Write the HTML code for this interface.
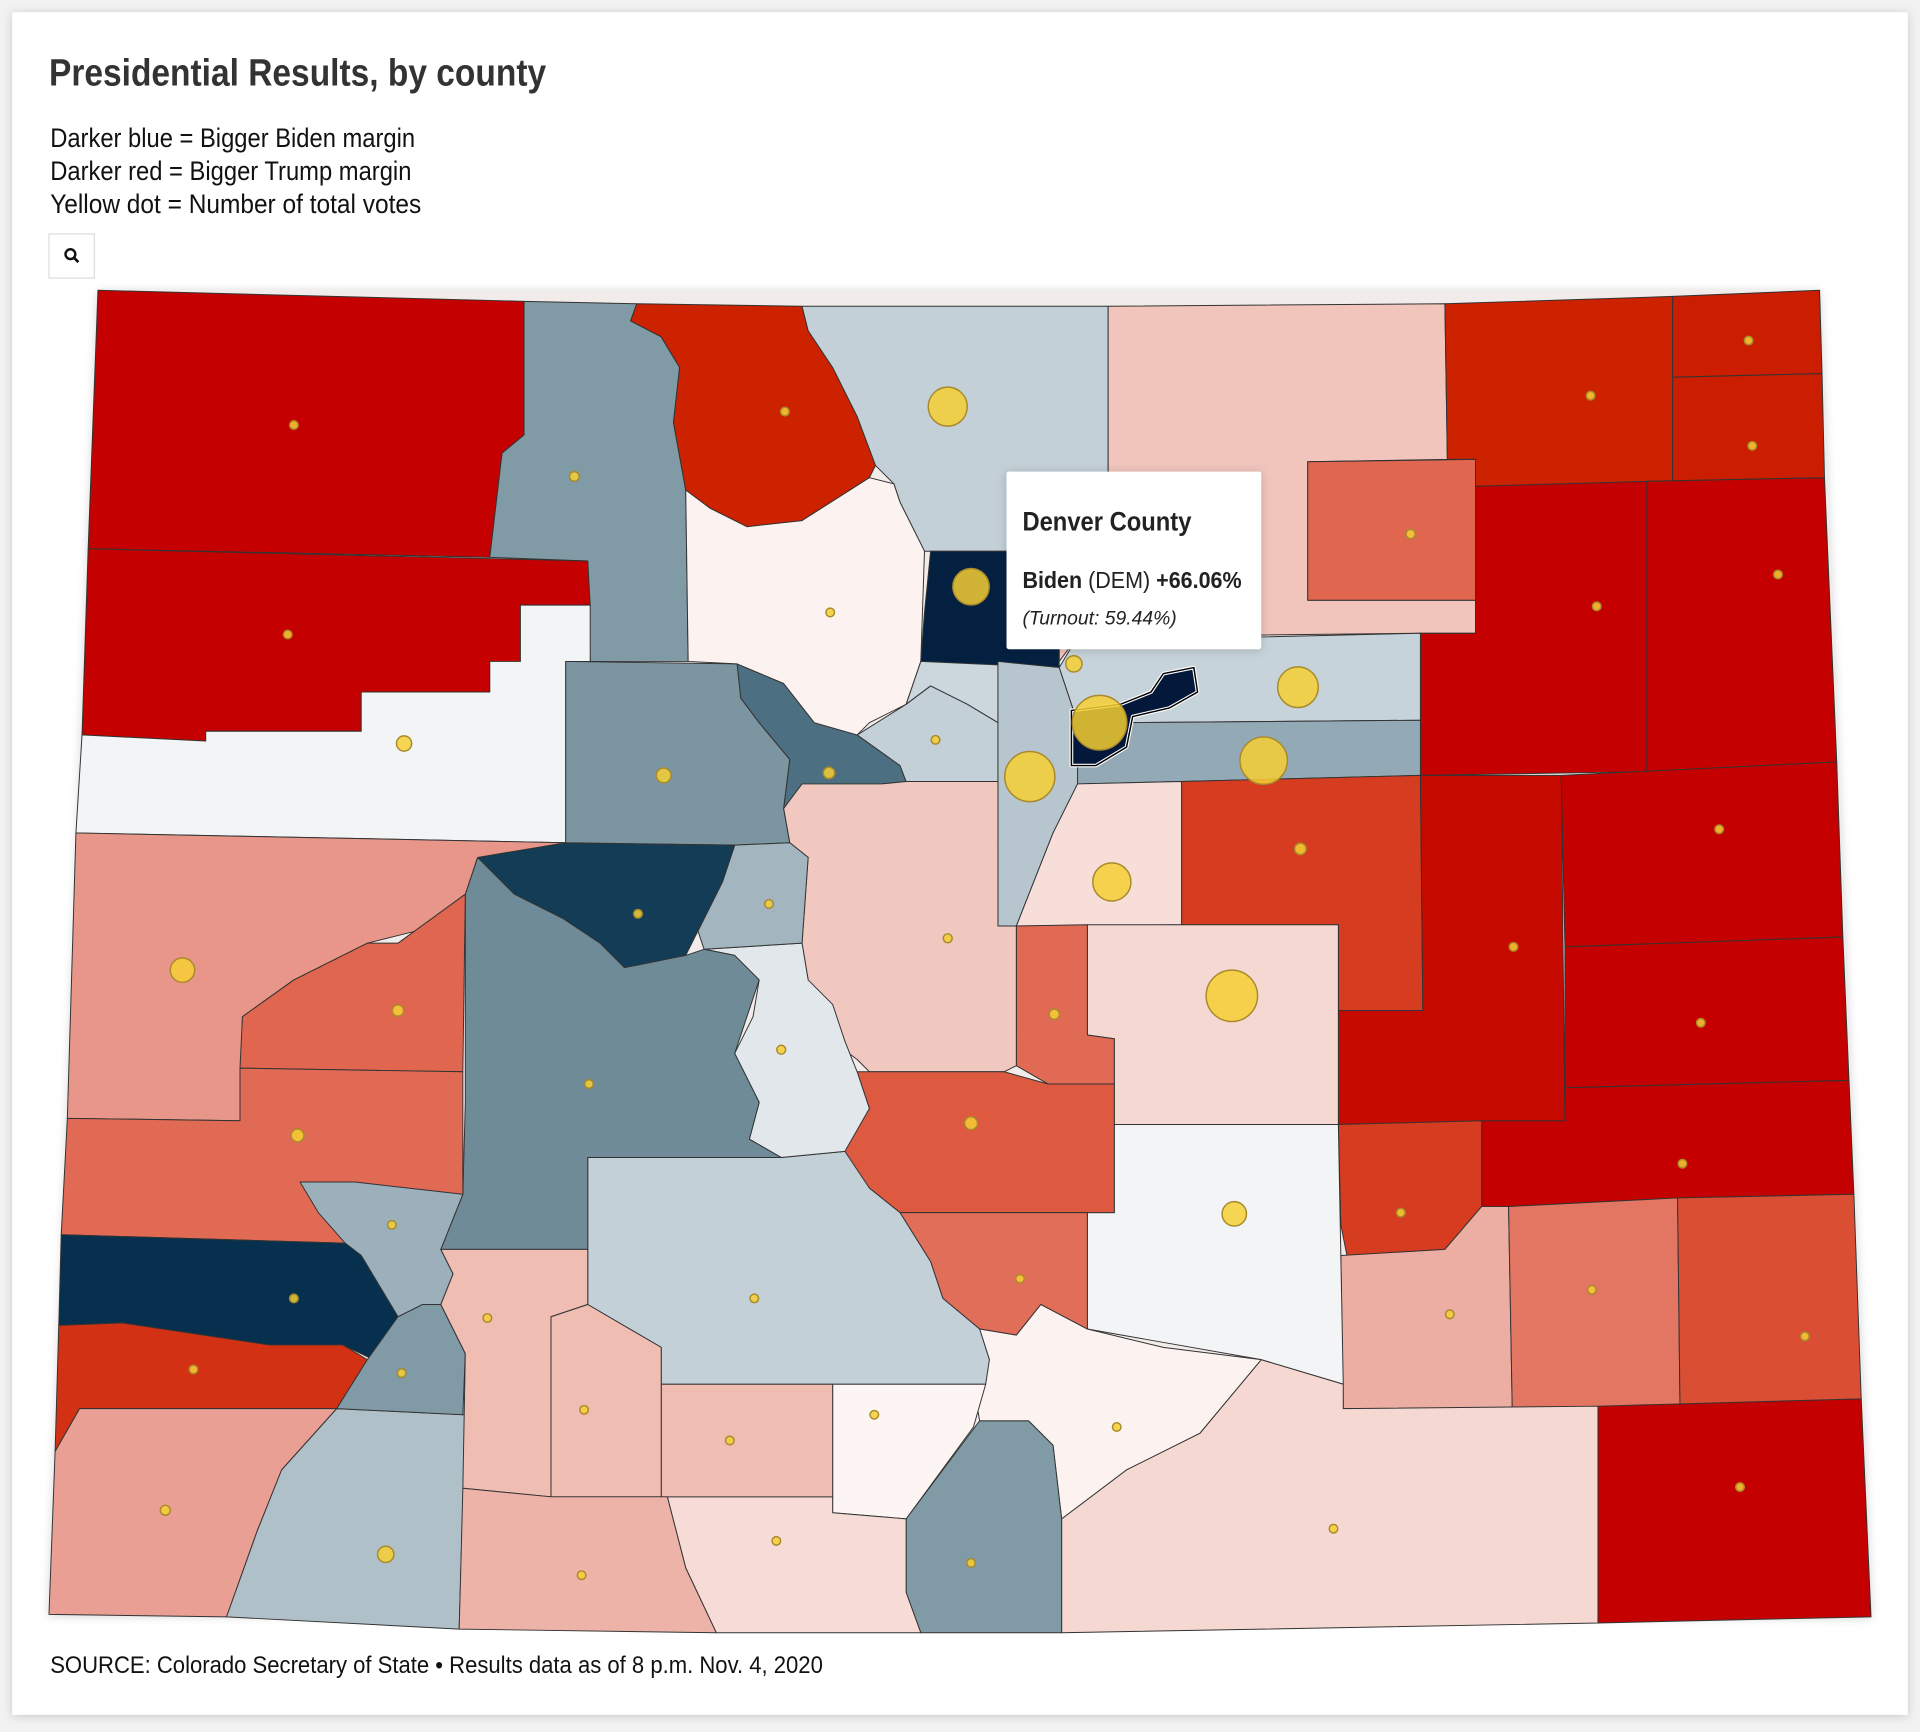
<!DOCTYPE html>
<html><head><meta charset="utf-8">
<style>
html,body{margin:0;padding:0;background:#f2f2f2;width:1920px;height:1732px;overflow:hidden}
svg{display:block}
text{font-family:"Liberation Sans Narrow","Liberation Sans",sans-serif}
</style></head>
<body>
<svg id="chart" width="1920" height="1732" viewBox="0 0 1568 1414" preserveAspectRatio="none" xmlns="http://www.w3.org/2000/svg">
<defs>
<filter id="sh" x="-10%" y="-10%" width="120%" height="120%"><feDropShadow dx="0" dy="1" stdDeviation="4" flood-color="#000" flood-opacity="0.18"/></filter>
</defs>
<rect x="10" y="10" width="1548" height="1390" fill="#fff" filter="url(#sh)"/>
<text x="40" y="70" font-size="31" font-weight="bold" fill="#333" textLength="406" lengthAdjust="spacingAndGlyphs">Presidential Results, by county</text>
<text x="41" y="120" font-size="22" fill="#111" textLength="298" lengthAdjust="spacingAndGlyphs">Darker blue = Bigger Biden margin</text>
<text x="41" y="147" font-size="22" fill="#111" textLength="295" lengthAdjust="spacingAndGlyphs">Darker red = Bigger Trump margin</text>
<text x="41" y="174" font-size="22" fill="#111" textLength="303" lengthAdjust="spacingAndGlyphs">Yellow dot = Number of total votes</text>
<g>
<rect x="40" y="191" width="37" height="36" fill="#fff" stroke="#ddd"/>
<circle cx="57.5" cy="207.5" r="4" fill="none" stroke="#111" stroke-width="2"/>
<line x1="60.5" y1="210.5" x2="64" y2="214" stroke="#111" stroke-width="2.2"/>
</g>
<g id="counties"></g>
<g id="dots"></g>
<g>
<rect x="822" y="385" width="208" height="145" fill="#fff" rx="2" filter="url(#sh)"/>
<text x="835" y="433" font-size="22" font-weight="bold" fill="#222" textLength="138" lengthAdjust="spacingAndGlyphs">Denver County</text>
<text x="835" y="480" font-size="19" fill="#222" textLength="179" lengthAdjust="spacingAndGlyphs"><tspan font-weight="bold">Biden</tspan> (DEM) <tspan font-weight="bold">+66.06%</tspan></text>
<text x="835" y="510" font-size="16" font-style="italic" fill="#222" textLength="126" lengthAdjust="spacingAndGlyphs">(Turnout: 59.44%)</text>
</g>
<text x="41" y="1366" font-size="20" fill="#111" textLength="631" lengthAdjust="spacingAndGlyphs">SOURCE: Colorado Secretary of State • Results data as of 8 p.m. Nov. 4, 2020</text>
</svg>
<script>
// Chart data (margin: + = Biden, - = Trump; votes in thousands)
const countyNames = ["Moffat","Routt","Jackson","Larimer","Weld","Logan","Sedgwick","Phillips","Rio Blanco","Garfield","Eagle","Summit","Grand","Broomfield","Gilpin","Boulder","Morgan","Washington","Yuma","Adams","Arapahoe","Jefferson","Douglas","Elbert","Lincoln","Kit Carson","Cheyenne","Kiowa","Crowley","Otero","Bent","Prowers","Baca","Las Animas","Pueblo","El Paso","Teller","Park","Fremont","Custer","Huerfano","Costilla","Alamosa","Conejos","Rio Grande","Saguache","Chaffee","Lake","Pitkin","Gunnison","Mesa","Delta","Montrose","Ouray","San Miguel","Dolores","Montezuma","La Plata","San Juan","Hinsdale","Mineral","Archuleta","Denver"];
const margins = [-62,30,-55,12,-17,-55,-56,-56,-63,1,32,48,-2,10,12,64,-40,-62,-63,11,24,15,-8,-47,-60,-63,-64,-64,-47,-23,-36,-44,-62,-10,1,-10,-39,-16,-42,-38,-2,30,-1,-9,-20,12,5,20,58,36,-28,-40,-39,22,60,-50,-26,17,30,-20,-20,-22,66];
const votes = [7,14,1,230,170,10,1.5,2.5,4,35,33,20,10,40,4,200,13,3,5,250,340,380,220,20,3,4,1,1,2,10,2,5,2,9,90,400,16,12,25,4,4,2,8,4,7,4,12,4,11,11,90,20,25,4,6,1.3,15,40,0.5,0.6,0.8,9,450];
</script>
<script>
const shapes = {
"Moffat":[[80,237],[428,246],[428,355],[410,370],[400,455],[72,448]],
"Routt":[[428,246],[520,248],[515,262],[540,275],[555,300],[550,345],[560,400],[562,540],[482,540],[480,458],[400,455],[410,370],[428,355]],
"Jackson":[[520,248],[655,250],[660,270],[680,300],[700,340],[715,380],[710,390],[655,425],[640,430],[610,430],[580,415],[560,400],[550,345],[555,300],[540,275],[515,262]],
"Larimer":[[655,250],[905,250],[905,450],[760,450],[755,450],[735,410],[730,395],[715,380],[700,340],[680,300],[660,270]],
"Weld":[[905,250],[1180,248],[1182,375],[1068,377],[1068,490],[1205,490],[1205,517],[1160,517],[880,520],[865,540],[865,450],[905,450]],
"Logan":[[1180,248],[1366,242],[1366,395],[1205,397],[1205,375],[1182,375]],
"Sedgwick":[[1366,242],[1486,237],[1488,305],[1366,308]],
"Phillips":[[1366,308],[1488,305],[1490,390],[1345,393],[1366,393]],
"Rio Blanco":[[72,448],[480,458],[482,494],[425,494],[425,540],[400,540],[400,565],[295,565],[295,597],[168,597],[168,605],[67,600]],
"Garfield":[[67,600],[168,605],[168,597],[295,597],[295,565],[400,565],[400,540],[425,540],[425,494],[482,494],[482,540],[462,540],[462,688],[62,680]],
"Eagle":[[462,540],[602,542],[605,570],[620,590],[645,620],[640,660],[645,688],[600,690],[462,688]],
"Summit":[[602,542],[640,558],[665,590],[700,600],[735,625],[740,638],[720,640],[695,660],[690,690],[645,688],[640,660],[645,620],[620,590],[605,570]],
"Grand":[[560,400],[580,415],[610,430],[655,425],[710,390],[730,395],[735,410],[755,450],[752,540],[740,575],[710,590],[700,600],[665,590],[640,558],[602,542],[562,540]],
"Broomfield":[[752,540],[815,540],[815,590],[790,575],[760,560],[740,575]],
"Gilpin":[[700,600],[740,575],[760,560],[790,575],[815,590],[815,638],[740,638],[735,625]],
"Boulder":[[760,450],[865,450],[865,545],[752,540],[755,500]],
"Morgan":[[1068,377],[1205,375],[1205,490],[1068,490]],
"Washington":[[1205,397],[1345,393],[1345,630],[1160,633],[1160,517],[1205,517]],
"Yuma":[[1345,393],[1490,390],[1500,622],[1345,630]],
"Adams":[[880,520],[1030,520],[1160,517],[1160,588],[920,590],[905,600],[880,590],[865,545]],
"Arapahoe":[[905,600],[920,590],[1160,588],[1160,633],[965,638],[880,640],[880,625]],
"Jefferson":[[815,540],[865,545],[880,590],[880,640],[860,680],[830,756],[815,756]],
"Douglas":[[880,640],[965,638],[965,755],[830,756],[860,680]],
"Elbert":[[965,638],[1160,633],[1162,825],[1093,825],[1093,755],[965,755]],
"Lincoln":[[1160,633],[1275,633],[1278,915],[1093,918],[1093,825],[1162,825]],
"Kit Carson":[[1275,633],[1500,622],[1505,765],[1278,773]],
"Cheyenne":[[1278,773],[1505,765],[1510,882],[1278,888]],
"Kiowa":[[1210,915],[1278,915],[1278,888],[1510,882],[1514,975],[1370,978],[1232,985],[1210,985]],
"Crowley":[[1093,918],[1210,915],[1210,985],[1180,1020],[1100,1025],[1095,1000]],
"Otero":[[1095,1025],[1180,1020],[1210,985],[1232,985],[1235,1150],[1097,1150]],
"Bent":[[1232,985],[1370,978],[1372,1148],[1235,1150]],
"Prowers":[[1370,978],[1514,975],[1520,1142],[1372,1148]],
"Baca":[[1305,1148],[1520,1142],[1528,1320],[1305,1325]],
"Las Animas":[[1097,1150],[1305,1148],[1305,1325],[867,1333],[867,1240],[920,1200],[980,1170],[1030,1110],[1097,1130]],
"Pueblo":[[888,918],[1093,918],[1095,1025],[1097,1130],[1030,1110],[888,1085],[888,990],[910,990],[910,918]],
"El Paso":[[888,755],[1093,755],[1093,918],[910,918],[910,848],[888,845]],
"Teller":[[830,756],[888,755],[888,845],[910,848],[910,885],[856,885],[830,870]],
"Park":[[645,688],[640,660],[655,640],[720,640],[740,638],[815,638],[815,756],[830,756],[830,870],[820,875],[710,875],[700,865],[680,850],[660,800],[655,770],[660,700]],
"Fremont":[[700,875],[820,875],[856,885],[910,885],[910,990],[888,990],[735,990],[710,970],[688,940],[710,905]],
"Custer":[[735,990],[888,990],[888,1085],[850,1065],[830,1090],[800,1085],[770,1060],[760,1030]],
"Huerfano":[[800,1085],[830,1090],[850,1065],[888,1085],[950,1100],[1030,1110],[980,1170],[920,1200],[867,1240],[860,1180],[840,1160],[800,1160],[795,1130],[808,1110]],
"Costilla":[[740,1240],[800,1160],[840,1160],[860,1180],[867,1240],[867,1333],[752,1333],[740,1300]],
"Alamosa":[[680,1130],[805,1130],[795,1165],[740,1240],[680,1235]],
"Conejos":[[545,1222],[680,1222],[680,1235],[740,1240],[740,1300],[752,1333],[585,1333],[560,1280]],
"Rio Grande":[[540,1130],[680,1130],[680,1222],[540,1222]],
"Saguache":[[480,945],[638,945],[690,940],[710,970],[735,990],[760,1030],[770,1060],[800,1085],[808,1110],[805,1130],[540,1130],[540,1100],[480,1065]],
"Chaffee":[[575,775],[600,780],[620,800],[615,830],[600,860],[620,900],[612,930],[638,945],[690,940],[710,905],[700,875],[690,850],[680,820],[660,800],[655,770]],
"Lake":[[600,690],[645,688],[660,700],[655,770],[575,775],[570,760],[590,720]],
"Pitkin":[[390,700],[440,688],[600,690],[590,720],[570,760],[560,780],[530,790],[510,790],[490,770],[460,750],[420,730],[405,715]],
"Gunnison":[[390,700],[405,715],[420,730],[460,750],[490,770],[510,790],[560,780],[575,775],[600,780],[620,800],[600,860],[620,900],[612,930],[638,945],[480,945],[480,1020],[360,1020],[378,975],[380,900],[380,730]],
"Mesa":[[62,680],[462,688],[390,700],[380,730],[340,760],[300,770],[260,790],[240,800],[198,830],[196,915],[55,913]],
"Delta":[[198,830],[240,800],[260,790],[300,770],[325,770],[380,730],[378,875],[196,872]],
"Montrose":[[55,913],[196,915],[196,872],[378,875],[378,975],[290,1000],[285,1015],[50,1008]],
"Ouray":[[245,965],[290,965],[378,975],[360,1020],[370,1040],[360,1065],[345,1065],[325,1075],[295,1025],[282,1015],[260,990]],
"San Miguel":[[50,1008],[282,1015],[295,1025],[325,1075],[305,1110],[280,1098],[220,1098],[100,1080],[48,1082]],
"Dolores":[[48,1082],[100,1080],[220,1098],[280,1098],[300,1110],[275,1150],[65,1150],[45,1185]],
"Montezuma":[[45,1185],[65,1150],[275,1150],[230,1200],[210,1250],[185,1320],[40,1318]],
"La Plata":[[275,1150],[380,1155],[375,1330],[185,1320],[210,1250],[230,1200]],
"San Juan":[[275,1150],[300,1110],[325,1075],[345,1065],[360,1065],[380,1105],[378,1155]],
"Hinsdale":[[360,1020],[480,1020],[480,1065],[450,1075],[450,1222],[378,1215],[380,1105],[360,1065],[370,1040]],
"Mineral":[[450,1075],[480,1065],[540,1100],[540,1222],[450,1222]],
"Archuleta":[[378,1215],[450,1222],[545,1222],[560,1280],[585,1333],[375,1330]],
"Denver":[[875,580],[915,575],[940,565],[950,550],[975,545],[978,565],[955,578],[925,585],[920,610],[895,625],[875,625]]
};
const dotPos = {"Moffat":[240,347],"Routt":[469,389],"Jackson":[641,336],"Larimer":[774,332],"Weld":[960,470],"Logan":[1299,323],"Sedgwick":[1428,278],"Phillips":[1431,364],"Rio Blanco":[235,518],"Garfield":[330,607],"Eagle":[542,633],"Summit":[677,631],"Grand":[678,500],"Broomfield":[877,542],"Gilpin":[764,604],"Boulder":[793,479],"Morgan":[1152,436],"Washington":[1304,495],"Yuma":[1452,469],"Adams":[1060,561],"Arapahoe":[1032,621],"Jefferson":[841,634],"Douglas":[908,720],"Elbert":[1062,693],"Lincoln":[1236,773],"Kit Carson":[1404,677],"Cheyenne":[1389,835],"Kiowa":[1374,950],"Crowley":[1144,990],"Otero":[1184,1073],"Bent":[1300,1053],"Prowers":[1474,1091],"Baca":[1421,1214],"Las Animas":[1089,1248],"Pueblo":[1008,991],"El Paso":[1006,813],"Teller":[861,828],"Park":[774,766],"Fremont":[793,917],"Custer":[833,1044],"Huerfano":[912,1165],"Costilla":[793,1276],"Alamosa":[714,1155],"Conejos":[634,1258],"Rio Grande":[596,1176],"Saguache":[616,1060],"Chaffee":[638,857],"Lake":[628,738],"Pitkin":[521,746],"Gunnison":[481,885],"Mesa":[149,792],"Delta":[325,825],"Montrose":[243,927],"Ouray":[320,1000],"San Miguel":[240,1060],"Dolores":[158,1118],"Montezuma":[135,1233],"La Plata":[315,1269],"San Juan":[328,1121],"Hinsdale":[398,1076],"Mineral":[477,1151],"Archuleta":[475,1286],"Denver":[898,590]};

function lerp(a,b,t){return a.map((v,i)=>Math.round(v+(b[i]-v)*t));}
function hex(h){return [1,3,5].map(i=>parseInt(h.substr(i,2),16));}
const blueStops=[[0,"#f6f7f9"],[12,"#c3d0d7"],[25,"#8fa6b2"],[36,"#6f8b98"],[50,"#476a7e"],[60,"#06304d"],[66,"#03183a"]];
const redStops=[[0,"#fef8f7"],[10,"#f5d8d2"],[20,"#efbdb2"],[28,"#e8958a"],[40,"#e0664f"],[47,"#d63c1f"],[55,"#cc2200"],[62,"#c50000"],[70,"#c00000"]];
function colorScale(m){
  const stops=m>=0?blueStops:redStops; const v=Math.abs(m);
  for(let i=1;i<stops.length;i++){ if(v<=stops[i][0]){const t=(v-stops[i-1][0])/(stops[i][0]-stops[i-1][0]); const c=lerp(hex(stops[i-1][1]),hex(stops[i][1]),t); return `rgb(${c})`;} }
  return stops[stops.length-1][1];
}
function radiusScale(v){return Math.max(3.5, Math.sqrt(v)*1.05);}
const NS="http://www.w3.org/2000/svg";
const gC=document.getElementById('counties'), gD=document.getElementById('dots');
const base=document.createElementNS(NS,'polygon');


base.setAttribute('points','80,237 1486,237 1528,1320 40,1318');
base.setAttribute('fill','#f1ece9');
base.setAttribute('filter','url(#sh)');
gC.appendChild(base);
countyNames.forEach((n,i)=>{
  const p=document.createElementNS(NS,'polygon');
  
  
  p.setAttribute('points',shapes[n].map(q=>q.join(',')).join(' '));
  p.setAttribute('fill',colorScale(margins[i]));
  p.setAttribute('stroke', n==="Denver" ? "#fff" : "#333");
  p.setAttribute('stroke-width', n==="Denver" ? "3" : "0.8");
  p.setAttribute('stroke-linejoin','round');
  gC.appendChild(p);
});
const dOut=document.createElementNS(NS,'polygon');


dOut.setAttribute('points',shapes["Denver"].map(q=>q.join(',')).join(' '));
dOut.setAttribute('fill','none');dOut.setAttribute('stroke','#000');dOut.setAttribute('stroke-width','1.2');
gC.appendChild(dOut);
countyNames.forEach((n,i)=>{
  const c=document.createElementNS(NS,'circle');
  
  
  c.setAttribute('cx',dotPos[n][0]);c.setAttribute('cy',dotPos[n][1]);
  c.setAttribute('r',radiusScale(votes[i]));
  c.setAttribute('fill','#f6cf34');c.setAttribute('fill-opacity','0.85');
  c.setAttribute('stroke','#a88a2a');c.setAttribute('stroke-width','1.2');
  gD.appendChild(c);
});
</script>
</body></html>
